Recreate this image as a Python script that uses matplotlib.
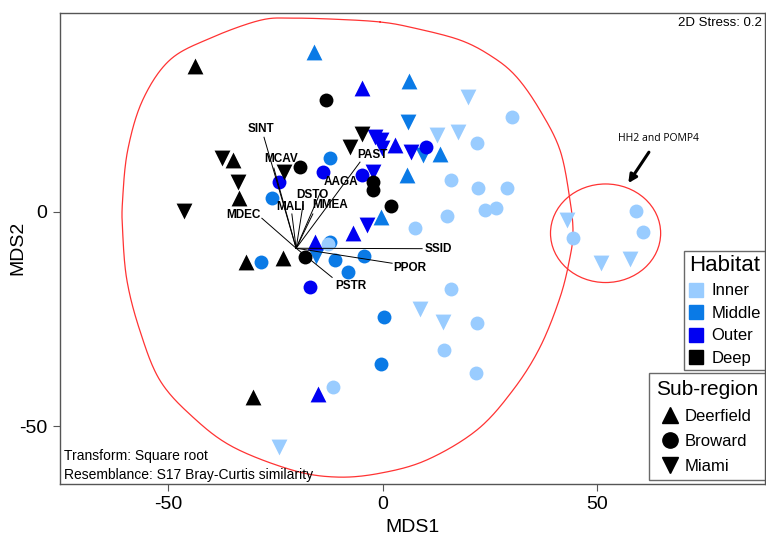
import numpy as np
import matplotlib
matplotlib.use('Agg')
import matplotlib.pyplot as plt
from matplotlib.lines import Line2D
from matplotlib.patches import Ellipse

plt.rcParams['font.family'] = ['Liberation Sans', 'DejaVu Sans']
plt.rcParams['axes.unicode_minus'] = False

# nMDS site scores (MDS1, MDS2), habitat and sub-region of each site
site_x = [
    -43.8, -34.9, -33.5, -31.9, -23.3, -30.3,
    -37.5, -33.8, -46.4, -23.0, -7.6, -4.8,
    -13.2, -19.3, -2.3, -2.3, 1.9, -18.1,
    -16.0, 6.1, 5.7, 13.4, -0.4,
    5.9, 9.4, -15.6,
    -12.3, -25.8, -28.4, -12.3, -11.1, -8.1, -4.4, 0.3, -0.4,
    -4.8, 2.9, -6.9, -15.8, -15.1,
    -1.8, -0.4, -0.2, 6.6, -3.7, -2.3,
    10.1, -13.9, -24.2, -4.8, -17.0,
    30.2, 22.0, 15.9, 22.2, 29.0, 23.9, 26.4, 15.0, 7.5, -12.8, -11.6,
    15.9, 22.0, 14.3, 21.8, 44.4, 59.1, 60.8,
    19.9, 12.7, 17.6, -24.2, 8.7, 14.1, 43.0, 51.0, 57.7,
]
site_y = [
    34.0, 12.1, 3.2, -11.7, -10.8, -43.2,
    12.5, 6.9, 0.2, 9.3, 15.1, 18.1,
    26.1, 10.4, 6.9, 5.1, 1.3, -10.6,
    37.3, 30.5, 8.6, 13.5, -1.2,
    20.9, 13.2, -10.3,
    12.5, 3.2, -11.7, -7.1, -11.3, -14.1, -10.3, -24.6, -35.5,
    28.9, 15.6, -5.0, -7.1, -42.6,
    17.4, 16.7, 14.9, 13.9, -3.1, 9.3,
    15.1, 9.3, 6.9, 8.6, -17.6,
    22.1, 16.0, 7.4, 5.5, 5.5, 0.4, 0.9, -1.0, -3.8, -7.5, -40.9,
    -18.0, -26.0, -32.3, -37.6, -6.1, 0.2, -4.7,
    26.8, 17.9, 18.6, -54.9, -22.7, -25.7, -1.9, -12.0, -11.0,
]
site_habitat = (
    ['Deep'] * 18
    + ['Middle'] * 17
    + ['Outer'] * 16
    + ['Inner'] * 27
)
site_region = (
    ['Deerfield'] * 6 + ['Miami'] * 6 + ['Broward'] * 6
    + ['Deerfield'] * 5 + ['Miami'] * 3 + ['Broward'] * 9
    + ['Deerfield'] * 5 + ['Miami'] * 6 + ['Broward'] * 5
    + ['Broward'] * 18 + ['Miami'] * 9
)

habitats = ['Inner', 'Middle', 'Outer', 'Deep']
habitat_colors = ['#99CCFF', '#0A7AE6', '#0000F2', '#000000']
regions = ['Deerfield', 'Broward', 'Miami']
region_markers = ['^', 'o', 'v']

# species vectors (end points) and label positions
species = ['SINT', 'MCAV', 'MALI', 'DSTO', 'MMEA', 'AAGA', 'PAST',
           'MDEC', 'SSID', 'PPOR', 'PSTR']
vec_x = [-27.7, -25.4, -21.2, -18.6, -16.3, -14.6, -5.3, -28.2, 9.2, 2.2, -11.8]
vec_y = [17.4, 10.2, -0.5, 1.6, -0.5, 4.4, 11.6, -1.5, -8.6, -12.0, -15.3]
lab_x = [-28.4, -23.7, -21.4, -16.3, -12.3, -9.7, -2.5, -32.4, 12.9, 6.4, -7.4]
lab_y = [19.3, 12.3, 1.1, 3.9, 1.6, 6.9, 13.2, -0.8, -8.7, -13.1, -17.3]
vec_origin = (-20.2, -8.5)

# outline of the main cluster
hull_x = [-0.6, 6.4, 18.0, 25.7, 31.3, 36.7, 41.4, 43.7, 44.4, 43.7, 41.4,
          36.7, 30.4, 22.0, 10.3, -0.6, -10.7, -21.0, -34.9, -44.3, -52.0,
          -56.7, -59.7, -60.7, -60.7, -59.5, -56.0, -49.7, -40.3, -28.6,
          -20.9, -10.0]
hull_y = [44.3, 43.1, 40.1, 36.1, 31.4, 23.7, 14.3, 2.7, -4.7, -10.6, -19.9,
          -31.6, -41.6, -50.9, -57.9, -61.0, -61.9, -60.3, -54.9, -47.9,
          -39.3, -27.6, -15.9, -4.3, 2.7, 14.4, 26.1, 35.4, 40.5, 44.7,
          45.2, 44.9]


def closed_spline(xs, ys, n=24):
    """Catmull-Rom spline through the points, closed on itself"""
    pts = np.column_stack([xs, ys])
    m = len(pts)
    t = np.linspace(0, 1, n, endpoint=False)[:, None]
    segs = []
    for i in range(m):
        p0, p1, p2, p3 = pts[(i - 1) % m], pts[i], pts[(i + 1) % m], pts[(i + 2) % m]
        segs.append(0.5 * (2 * p1 + (p2 - p0) * t
                           + (2 * p0 - 5 * p1 + 4 * p2 - p3) * t ** 2
                           + (-p0 + 3 * p1 - 3 * p2 + p3) * t ** 3))
    out = np.vstack(segs + [pts[:1]])
    return out[:, 0], out[:, 1]


fig = plt.figure(figsize=(7.66, 5.4), dpi=100)
ax = fig.add_axes([60 / 766, 56.5 / 540, 705 / 766, 470.5 / 540])
ax.set_xlim(-75.3, 89.2)
ax.set_ylim(-63.4, 46.4)

# cluster outlines
hx, hy = closed_spline(hull_x, hull_y)
ax.plot(hx, hy, color='#FF3333', lw=0.9, zorder=1)
ax.add_patch(Ellipse((52.0, -5.0), 25.7, 23.0, fill=False,
                     edgecolor='#FF3333', lw=0.9, zorder=1))
ax.annotate('HH2 and POMP4', xy=(57.3, 6.7), xytext=(64.3, 17.2),
            ha='center', va='center', fontsize=7.5, family=['Open Sans', 'DejaVu Sans'],
            arrowprops=dict(arrowstyle='-|>', color='black', lw=2.2,
                            mutation_scale=12, shrinkA=5, shrinkB=0))

# sites
sx = np.array(site_x)
sy = np.array(site_y)
hab = np.array(site_habitat)
reg = np.array(site_region)
draw_order = ['Middle', 'Inner', 'Outer', 'Deep']
for z, h in enumerate(draw_order):
    col = habitat_colors[habitats.index(h)]
    for r, mk in zip(regions, region_markers):
        sel = (hab == h) & (reg == r)
        size = 100 if mk == 'o' else 130
        ax.scatter(sx[sel], sy[sel], marker=mk, s=size, color=col,
                   linewidths=0, zorder=2 + z)

# species vectors
for name, vx, vy, tx, ty in zip(species, vec_x, vec_y, lab_x, lab_y):
    ax.plot([vec_origin[0], vx], [vec_origin[1], vy], color='black', lw=0.7, zorder=7)
    ax.text(tx, ty, name, ha='center', va='center', fontsize=8.5,
            fontweight='bold', zorder=8)

ax.text(0.996, 0.992, '2D Stress: 0.2', transform=ax.transAxes,
        ha='right', va='top', fontsize=9.5)
ax.text(0.006, 0.058, 'Transform: Square root', transform=ax.transAxes,
        ha='left', va='center', fontsize=10)
ax.text(0.006, 0.018, 'Resemblance: S17 Bray-Curtis similarity',
        transform=ax.transAxes, ha='left', va='center', fontsize=10)

ax.set_xticks([-50, 0, 50])
ax.set_yticks([-50, 0])
ax.tick_params(length=5, width=0.8, color='#555555', labelsize=14, pad=4)
ax.set_xlabel('MDS1', fontsize=14, labelpad=4)
ax.set_ylabel('MDS2', fontsize=14)
ax.yaxis.set_label_coords(-0.048, 0.5)
for sp in ax.spines.values():
    sp.set_color('#555555')
    sp.set_linewidth(1.0)

# legends
hab_handles = [Line2D([], [], marker='s', ls='', color=c, markersize=10)
               for c in habitat_colors]
leg1 = ax.legend(hab_handles, habitats, title='Habitat', loc='lower right',
                 bbox_to_anchor=(1.0, 0.241), fontsize=12, title_fontsize=16,
                 frameon=True, fancybox=False, edgecolor='#444444',
                 handlelength=0.9, handletextpad=0.5, borderpad=0.25,
                 labelspacing=0.45, borderaxespad=0.0)
leg1.get_frame().set_linewidth(1.0)
ax.add_artist(leg1)

reg_handles = [Line2D([], [], marker=m, ls='', color='black', markersize=11)
               for m in region_markers]
leg2 = ax.legend(reg_handles, regions, title='Sub-region', loc='lower right',
                 bbox_to_anchor=(1.0, 0.007), fontsize=12, title_fontsize=15,
                 frameon=True, fancybox=False, edgecolor='#444444',
                 handlelength=0.9, handletextpad=0.4, borderpad=0.4,
                 labelspacing=0.6, borderaxespad=0.0)
leg2.get_frame().set_linewidth(1.0)

fig.savefig('out.png', dpi=100)
